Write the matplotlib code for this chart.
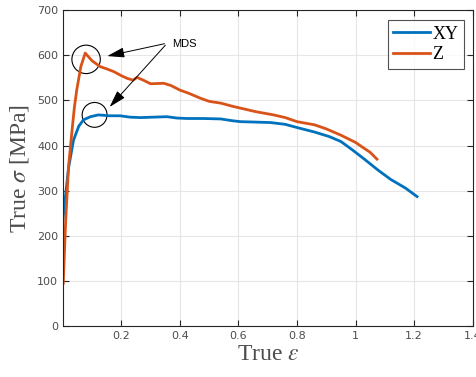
import matplotlib
matplotlib.use("Agg")
import matplotlib.pyplot as plt
from matplotlib.patches import Ellipse

xy_strain = [0.0, 0.008, 0.02, 0.037, 0.055, 0.071, 0.095, 0.122, 0.16, 0.196, 0.23, 0.265, 0.31, 0.356, 0.39, 0.425, 0.48, 0.54, 0.58, 0.607, 0.66, 0.71, 0.76, 0.80, 0.86, 0.91, 0.95, 0.99, 1.03, 1.076, 1.12, 1.17, 1.21]
xy_stress = [230, 279, 350, 412, 443, 457, 464, 468, 466, 466, 463, 462, 463, 464, 461, 460, 460, 459, 455, 453, 452, 451, 447, 440, 430, 420, 409, 390, 370, 346, 325, 306, 287]

z_strain = [0.002, 0.01, 0.02, 0.031, 0.04, 0.048, 0.062, 0.077, 0.1, 0.128, 0.15, 0.174, 0.2, 0.22, 0.24, 0.254, 0.275, 0.30, 0.345, 0.37, 0.40, 0.43, 0.47, 0.50, 0.54, 0.58, 0.607, 0.66, 0.72, 0.76, 0.80, 0.86, 0.90, 0.95, 1.0, 1.02, 1.05, 1.073]
z_stress = [95, 230, 353, 427, 485, 523, 575, 605, 588, 575, 570, 564, 555, 549, 545, 551, 545, 537, 538, 533, 523, 516, 505, 498, 494, 487, 483, 475, 468, 462, 453, 446, 437, 423, 407, 398, 385, 370]

x_ticks = [0.2, 0.4, 0.6, 0.8, 1.0, 1.2, 1.4]
x_ticklabels = ["0.2", "0.4", "0.6", "0.8", "1", "1.2", "1.4"]
y_ticks = [0, 100, 200, 300, 400, 500, 600, 700]

plt.rcParams['mathtext.fontset'] = 'stix'
fig = plt.figure(figsize=(4.77, 3.77), dpi=100)
ax = fig.add_axes([0.132, 0.135, 0.859, 0.838])

ax.plot(xy_strain, xy_stress, color='#0072BD', lw=2, label='XY')
ax.plot(z_strain, z_stress, color='#D95319', lw=2, label='Z')

ax.set_xlim(0.001, 1.4)
ax.set_ylim(0, 700)
ax.set_xticks(x_ticks)
ax.set_xticklabels(x_ticklabels)
ax.set_yticks(y_ticks)
ax.grid(True, color='#e6e6e6', lw=0.8)
ax.set_axisbelow(True)
ax.tick_params(direction='in', top=True, right=True, labelsize=8, colors='#262626',
               labelcolor='#4d4d4d', length=4, width=0.8)
for sp in ax.spines.values():
    sp.set_color('#262626')
    sp.set_linewidth(0.8)

ax.set_xlabel(r'True $\epsilon$', fontsize=17, family='Liberation Serif', color='#4d4d4d', labelpad=2)
ax.set_ylabel(r'True $\sigma$ [MPa]', fontsize=17, family='Liberation Serif', color='#4d4d4d', labelpad=4)

leg = ax.legend(loc='upper right', bbox_to_anchor=(0.978, 0.968),
                prop={'family': 'Liberation Serif', 'size': 13},
                fancybox=False, edgecolor='#262626', handlelength=2.0, borderaxespad=0.0,
                handletextpad=0.15, borderpad=0.3, labelspacing=0.2)
leg.get_frame().set_linewidth(0.8)

# circles: ~14 px radius; x scale ~292 px/unit, y scale ~0.451 px/MPa
ax.add_patch(Ellipse((0.080, 591), 0.097, 63, fill=False, lw=0.8, color='k'))
ax.add_patch(Ellipse((0.109, 468), 0.085, 55, fill=False, lw=0.8, color='k'))

arrow_style = '-|>,head_length=0.75,head_width=0.22'
ax.annotate('', xy=(0.143, 597), xytext=(0.357, 627),
            arrowprops=dict(arrowstyle=arrow_style, color='k', lw=0.7, mutation_scale=14))
ax.annotate('', xy=(0.154, 481), xytext=(0.357, 627),
            arrowprops=dict(arrowstyle=arrow_style, color='k', lw=0.7, mutation_scale=14))
ax.text(0.374, 625, 'MDS', fontsize=8, family='Liberation Sans', va='center', ha='left')

fig.savefig('out.png', dpi=100)
